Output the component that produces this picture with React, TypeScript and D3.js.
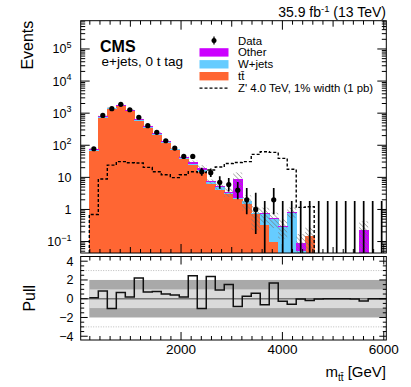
import * as d3 from "d3";

// bin edges in GeV (33 bins)
const binEdges = [
  190, 367.5, 545, 722.5, 900, 1077.5, 1255, 1432.5, 1610, 1787.5, 1965, 2142.5,
  2320, 2497.5, 2675, 2852.5, 3030, 3207.5, 3385, 3562.5, 3740, 3917.5, 4095,
  4272.5, 4450, 4627.5, 4805, 4982.5, 5160, 5337.5, 5515, 5692.5, 5870, 6047.5,
];

const dataCounts = [
  78, 850, 1380, 1890, 1280, 745, 407, 253, 138, 82, 45, 45, 15, 14, 7, 6, 4, 2, 1, 0, 2,
  0, 0, 0, 0, 0, 0, 0, 0, 0, 0, 0, 0,
];
const ttbar = [
  67, 715, 1330, 1640, 1150, 585, 350, 215, 118, 70, 38, 23.5, 14.5, 6.2, 3.9, 3.1, 2.1,
  1.5, 0.7, 0.33, 0.1, 0, 0, 0, 0.15, 0, 0, 0, 0, 0, 0, 0, 0,
];
const wjets = [
  5, 45, 75, 85, 58, 30, 18, 12, 7, 4.5, 3, 3.2, 2.2, 1.1, 1.1, 0.2, 0.1, 0.3, 0.05, 0.41,
  0.4, 0.29, 0.8, 0.05, 0, 0, 0, 0, 0, 0, 0, 0, 0,
];
const other = [
  5, 44, 75, 85, 57, 28, 17, 10, 6, 4, 2.8, 4, 3.3, 0.2, 0.2, 0.2, 6.7, 0.05, 0, 0.02, 0.03,
  0.02, 0.05, 0.04, 0, 0, 0, 0, 0, 0, 0.23, 0, 0,
];
// relative MC uncertainty (hatched band)
const mcUnc = [
  0.06, 0.06, 0.06, 0.06, 0.06, 0.06, 0.06, 0.06, 0.06, 0.06, 0.06, 0.1, 0.2, 0.15, 0.2,
  0.3, 0.6, 0.5, 0.7, 0.5, 0.5, 0.6, 0.35, 0.9, 0.85, 0, 0, 0, 0, 0, 0.85, 0, 0,
];
const zprime = [
  0.7, 8.9, 24, 31, 28.6, 28, 20.5, 15, 12, 9.8, 12, 15, 14, 17, 21, 27, 29, 31, 52, 63, 60,
  39, 17.8, 1.16, 1.22, 0, 0, 0, 0, 0, 0, 0, 0,
];
const pull = [
  0.1, 0.82, -1.03, 0.67, 0.18, 2.2, 0.71, 0.78, 0.5, 0.39, 0.18, 2.45, -1.03, 2.38, 0.92,
  1.52, -0.82, 0.25, 0.57, -0.64, 1.67, -0.28, -0.6, -0.04, -0.18, -0.04, 0, 0, 0, -0.02,
  -0.25, 0, 0,
];

const xTickLabels = [2000, 4000, 6000];
const yDecades = [-1, 0, 1, 2, 3, 4, 5];
const pullTickLabels = [4, 2, 0, -2, -4];

const legendItems = [
  { key: "data", label: "Data" },
  { key: "other", label: "Other", color: "#cc00ff" },
  { key: "wjets", label: "W+jets", color: "#66ccff" },
  { key: "ttbar", label: "tt\u0304", color: "#ff6633" },
  { key: "zp", label: "Z' 4.0 TeV, 1% width (1 pb)" },
];

const colors: Record<string, string> = { ttbar: "#ff6633", wjets: "#66ccff", other: "#cc00ff" };
const font = "'Liberation Sans', Arial, Helvetica, sans-serif";

// approximate Garwood interval
function poissonLo(n: number) {
  if (n <= 0) return 0;
  return n * Math.pow(1 - 1 / (9 * n) - 1 / (3 * Math.sqrt(n)), 3);
}
function poissonHi(n: number) {
  const m = n + 1;
  return m * Math.pow(1 - 1 / (9 * m) + 1 / (3 * Math.sqrt(m)), 3);
}

export default function App() {
  const W = 411, H = 387;
  const L = 80.7, R = 386.3, T = 20.7, B = 253, PT = 256.5, PB = 340;

  const x = d3.scaleLinear().domain([20, 6050]).range([L, R]);
  const y = d3.scaleLog().domain([0.044, 7.6e5]).range([B, T]);
  const py = d3.scaleLinear().domain([-4.4, 4.5]).range([PB, PT]);
  const yc = (v: number) => (v <= 0 ? B : Math.min(B, y(v)));

  const rows = ttbar.map((t, i) => ({ ttbar: t, wjets: wjets[i], other: other[i] }));
  const stack = d3.stack<any>().keys(["ttbar", "wjets", "other"])(rows);
  const totals = rows.map((r) => r.ttbar + r.wjets + r.other);

  // Z' step path
  let lastZ = 0;
  zprime.forEach((v, i) => { if (v > 0) lastZ = i; });
  let zPath = `M${x(binEdges[0])},${B}`;
  for (let i = 0; i <= lastZ; i++) {
    zPath += `L${x(binEdges[i])},${yc(zprime[i])}L${x(binEdges[i + 1])},${yc(zprime[i])}`;
  }
  zPath += `L${x(binEdges[lastZ + 1])},${B}`;

  let pPath = `M${x(binEdges[0])},${py(pull[0])}`;
  pull.forEach((p, i) => {
    pPath += `L${x(binEdges[i])},${py(p)}L${x(binEdges[i + 1])},${py(p)}`;
  });

  const xMinor = d3.range(200, 6001, 200);
  const tickLen = (v: number) => (v % 2000 === 0 ? 9 : v % 1000 === 0 ? 6 : 4);
  const yMinor: number[] = [];
  for (let k = -2; k <= 5; k++) for (let m = 2; m <= 9; m++) {
    const v = m * Math.pow(10, k);
    if (v > 0.044 && v < 7.6e5) yMinor.push(v);
  }
  const pMinor = d3.range(-4, 4.51, 0.5);

  return (
    <svg width={W} height={H} style={{ position: "absolute", left: 0, top: 0, background: "#fff" }} fontFamily={font}>
      <defs>
        <pattern id="hatch" patternUnits="userSpaceOnUse" width={3.2} height={3.2} patternTransform="rotate(-45)">
          <line x1={0} y1={0} x2={0} y2={3.2} stroke="#777" strokeWidth={1.1} />
        </pattern>
        <clipPath id="mainClip"><rect x={L} y={T} width={R - L} height={B - T} /></clipPath>
      </defs>

      {/* title */}
      <text x={386} y={16.5} textAnchor="end" fontSize={14}>
        35.9 fb<tspan dy={-5} fontSize={9.5}>-1</tspan><tspan dy={5}> (13 TeV)</tspan>
      </text>

      {/* main pad */}
      <g clipPath="url(#mainClip)">
        {stack.map((layer) => (
          <g key={layer.key} fill={colors[layer.key]} shapeRendering="crispEdges">
            {layer.map((d, i) => {
              const hi = d[1];
              if (hi <= 0.044 || d[1] - d[0] <= 0) return null;
              const y0 = yc(d[0]), y1 = yc(hi);
              return <rect key={i} x={x(binEdges[i])} y={y1} width={x(binEdges[i + 1]) - x(binEdges[i]) + 0.4} height={Math.max(0, y0 - y1)} />;
            })}
          </g>
        ))}
        {totals.map((t, i) => {
          if (t <= 0 || mcUnc[i] <= 0) return null;
          const y1 = yc(t * (1 + mcUnc[i]));
          const y0 = yc(t * (1 - mcUnc[i]));
          return <rect key={i} x={x(binEdges[i])} y={y1} width={x(binEdges[i + 1]) - x(binEdges[i])} height={y0 - y1} fill="url(#hatch)" />;
        })}
        <path d={zPath} fill="none" stroke="#000" strokeWidth={1.4} strokeDasharray="3,2" />
        {dataCounts.map((n, i) => {
          const cx = x((binEdges[i] + binEdges[i + 1]) / 2);
          return (
            <g key={i}>
              <line x1={cx} x2={cx} y1={yc(poissonLo(n))} y2={yc(poissonHi(n))} stroke="#000" strokeWidth={1.7} />
              {n > 0 && <circle cx={cx} cy={y(n)} r={2.6} fill="#000" />}
            </g>
          );
        })}
      </g>

      {/* main frame + ticks */}
      <g stroke="#000" strokeWidth={1}>
        {xMinor.map((v) => (
          <g key={v}>
            <line x1={x(v)} x2={x(v)} y1={B} y2={B - tickLen(v)} />
            <line x1={x(v)} x2={x(v)} y1={T} y2={T + tickLen(v)} />
          </g>
        ))}
        {yDecades.map((k) => (
          <g key={k}>
            <line x1={L} x2={L + 9} y1={y(Math.pow(10, k))} y2={y(Math.pow(10, k))} />
            <line x1={R} x2={R - 9} y1={y(Math.pow(10, k))} y2={y(Math.pow(10, k))} />
          </g>
        ))}
        {yMinor.map((v, i) => (
          <g key={i}>
            <line x1={L} x2={L + 4.5} y1={y(v)} y2={y(v)} />
            <line x1={R} x2={R - 4.5} y1={y(v)} y2={y(v)} />
          </g>
        ))}
        <rect x={L} y={T} width={R - L} height={B - T} fill="none" />
      </g>
      {yDecades.map((k) => (
        <text key={k} x={71.5} y={y(Math.pow(10, k)) + 4.5} textAnchor="end" fontSize={12.5}>
          {k === 0 ? "1" : k === 1 ? "10" : (
            <>10<tspan dy={-5.5} fontSize={9}>{k < 0 ? "\u2212" + -k : k}</tspan></>
          )}
        </text>
      ))}
      <text transform={`translate(33,${T}) rotate(-90)`} textAnchor="end" fontSize={16}>Events</text>

      <text x={100} y={51.5} fontSize={16} fontWeight="bold">CMS</text>
      <text x={101.5} y={65.5} fontSize={13.5}>e+jets, 0 t tag</text>

      {/* legend */}
      {legendItems.map((it, i) => {
        const cy = 40.5 + i * 11.9;
        return (
          <g key={it.key}>
            {it.key === "data" && (
              <g>
                <line x1={214} x2={214} y1={cy - 4} y2={cy + 4} stroke="#000" strokeWidth={1.3} />
                <circle cx={214} cy={cy} r={2.5} fill="#000" />
              </g>
            )}
            {it.color && <rect x={199.5} y={cy - 4.2} width={29} height={8.4} fill={it.color} />}
            {it.key === "zp" && <line x1={199.5} x2={228.5} y1={cy} y2={cy} stroke="#000" strokeWidth={1.3} strokeDasharray="3,2" />}
            <text x={238} y={cy + 4} fontSize={11.4}>{it.label}</text>
          </g>
        );
      })}

      {/* pull pad */}
      <rect x={x(binEdges[0])} y={py(2)} width={R - x(binEdges[0])} height={py(-2) - py(2)} fill="#a9a9a9" />
      <rect x={x(binEdges[0])} y={py(1)} width={R - x(binEdges[0])} height={py(-1) - py(1)} fill="#dadada" />
      {[3, -3].map((v) => (
        <line key={v} x1={L} x2={R} y1={py(v)} y2={py(v)} stroke="#bbb" strokeWidth={1} strokeDasharray="1,1.5" />
      ))}
      <line x1={L} x2={R} y1={py(0)} y2={py(0)} stroke="#777" strokeWidth={1.5} />
      <path d={pPath} fill="none" stroke="#111" strokeWidth={1.5} />
      <g stroke="#000" strokeWidth={1}>
        {xMinor.map((v) => (
          <g key={v}>
            <line x1={x(v)} x2={x(v)} y1={PB} y2={PB - (v % 2000 === 0 ? 8 : 4)} />
            <line x1={x(v)} x2={x(v)} y1={PT} y2={PT + (v % 2000 === 0 ? 8 : 4)} />
          </g>
        ))}
        {pMinor.map((v) => (
          <g key={v}>
            <line x1={L} x2={L + (v % 2 === 0 ? 7 : 3.5)} y1={py(v)} y2={py(v)} />
            <line x1={R} x2={R - (v % 2 === 0 ? 7 : 3.5)} y1={py(v)} y2={py(v)} />
          </g>
        ))}
        <rect x={L} y={PT} width={R - L} height={PB - PT} fill="none" />
      </g>
      {pullTickLabels.map((v) => (
        <text key={v} x={73.5} y={py(v) + 4.5} textAnchor="end" fontSize={12.5}>
          {v < 0 ? "\u2212" + -v : v}
        </text>
      ))}
      <text transform={`translate(35,${(PT + PB) / 2}) rotate(-90)`} textAnchor="middle" fontSize={16}>Pull</text>

      {xTickLabels.map((v) => (
        <text key={v} x={x(v)} y={353.5} textAnchor="middle" fontSize={13.5}>{v}</text>
      ))}
      <text x={386} y={377} textAnchor="end" fontSize={15}>
        m<tspan dy={4} fontSize={10}>{"tt\u0304"}</tspan><tspan dy={-4}> [GeV]</tspan>
      </text>
    </svg>
  );
}
